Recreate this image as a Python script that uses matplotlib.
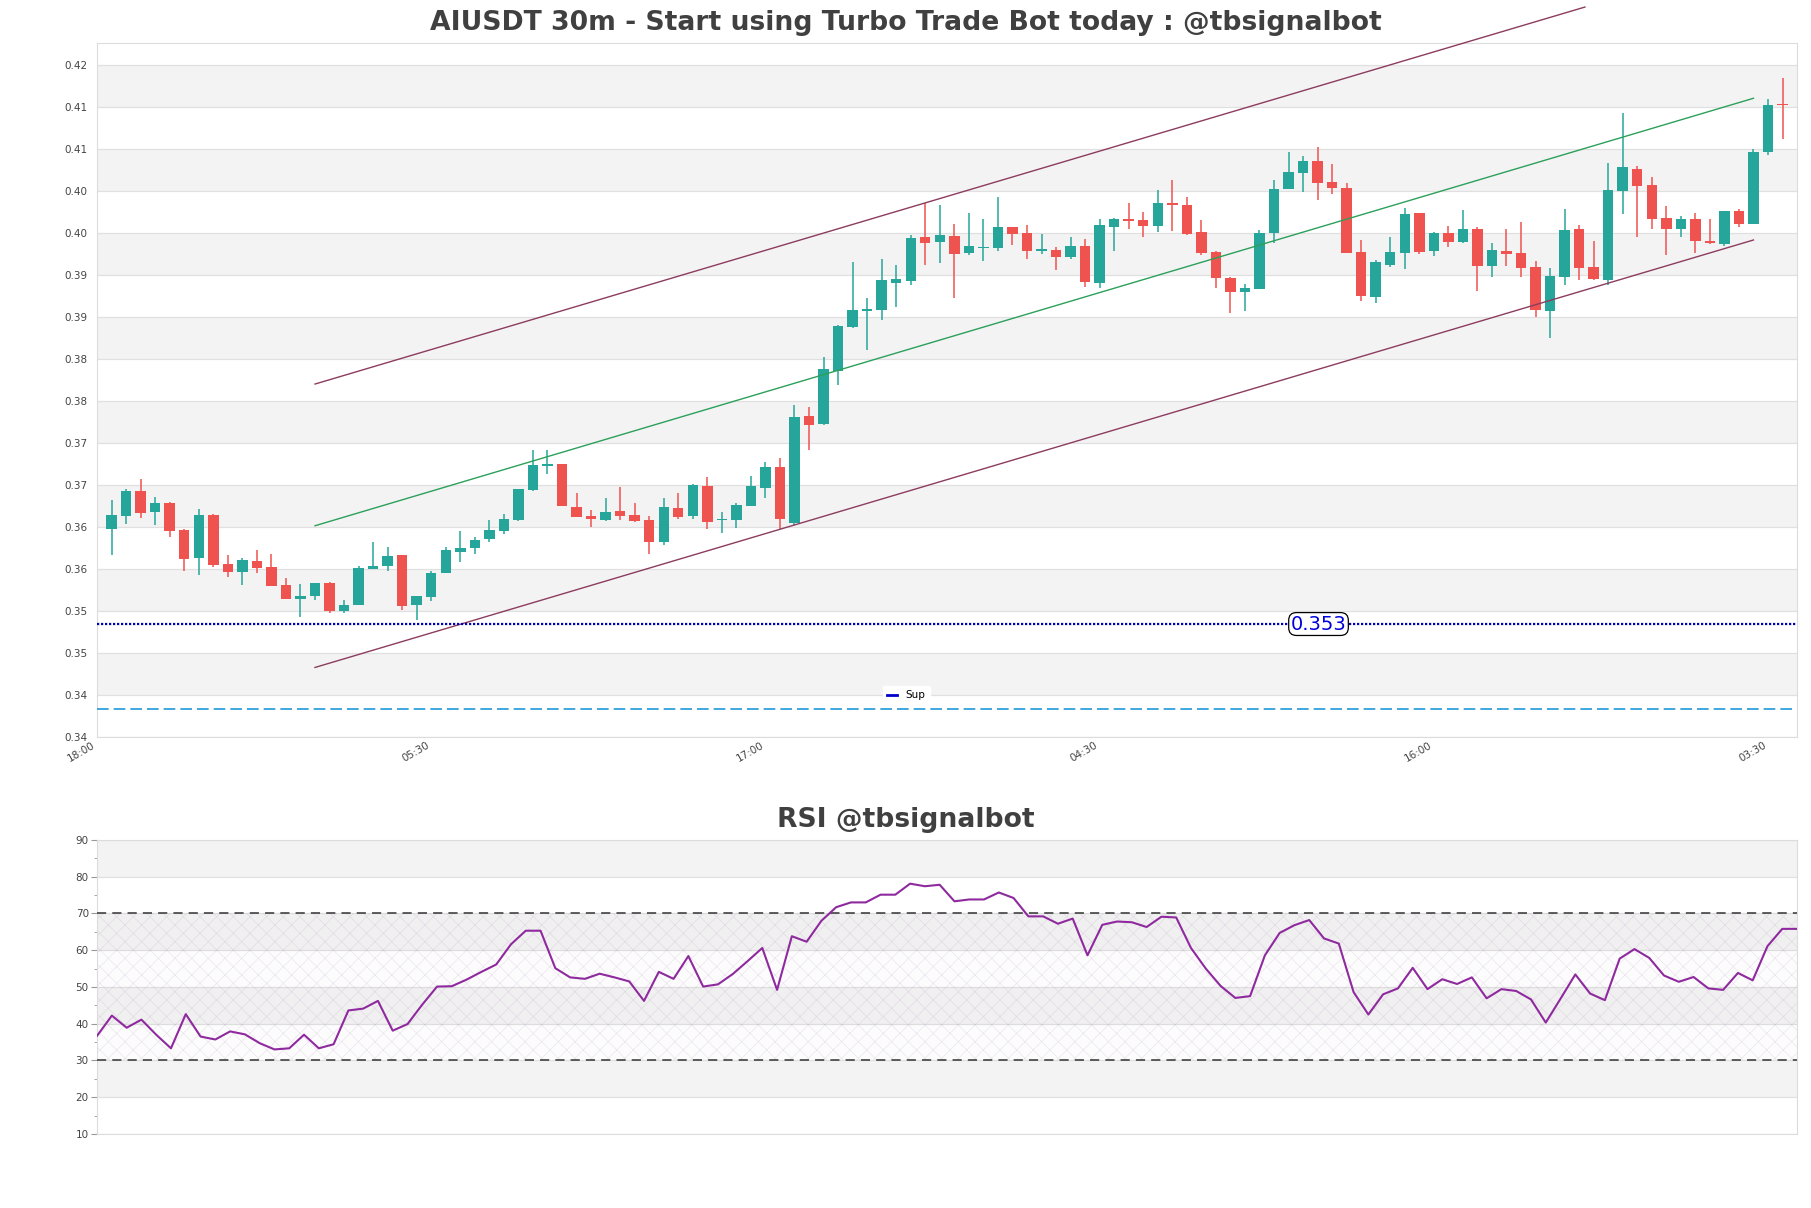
import numpy as np
import matplotlib.pyplot as plt
from matplotlib.lines import Line2D
from matplotlib.ticker import MultipleLocator

# ---- candle data (30m bars) ----
opens = [
    0.36480, 0.36631, 0.36929, 0.36682, 0.36786, 0.36464, 0.36135, 0.36643, 0.36060, 0.35968,
    0.36095, 0.36024, 0.35810, 0.35646, 0.35682, 0.35833, 0.35504, 0.35575, 0.36004, 0.36039,
    0.36167, 0.35575, 0.35670, 0.35956, 0.36206, 0.36254, 0.36361, 0.36456, 0.36587, 0.36940,
    0.37230, 0.37250, 0.36742, 0.36631, 0.36587, 0.36690, 0.36643, 0.36583, 0.36325, 0.36726,
    0.36631, 0.36988, 0.36580, 0.36587, 0.36754, 0.36968, 0.37214, 0.36551, 0.37821, 0.37726,
    0.38361, 0.38881, 0.39075, 0.39087, 0.39408, 0.39432, 0.39952, 0.39896, 0.39964, 0.39765,
    0.39821, 0.39825, 0.40071, 0.40000, 0.39789, 0.39798, 0.39718, 0.39845, 0.39408, 0.40075,
    0.40167, 0.40155, 0.40087, 0.40357, 0.40333, 0.40012, 0.39774, 0.39464, 0.39301, 0.39337,
    0.40004, 0.40524, 0.40718, 0.40857, 0.40607, 0.40536, 0.39774, 0.39242, 0.39623, 0.39765,
    0.40238, 0.39789, 0.40000, 0.39896, 0.40048, 0.39611, 0.39786, 0.39765, 0.39599, 0.39075,
    0.39480, 0.40048, 0.39599, 0.39444, 0.40504, 0.40762, 0.40571, 0.40179, 0.40051, 0.40167,
    0.39908, 0.39873, 0.40262, 0.40111, 0.40968, 0.41539,
]
highs = [
    0.36821, 0.36949, 0.37071, 0.36857, 0.36798, 0.36476, 0.36714, 0.36655, 0.36167, 0.36131,
    0.36226, 0.36179, 0.35893, 0.35821, 0.35833, 0.35845, 0.35631, 0.36036, 0.36321, 0.36265,
    0.36167, 0.35679, 0.35973, 0.36265, 0.36452, 0.36381, 0.36583, 0.36655, 0.36952, 0.37420,
    0.37420, 0.37250, 0.36908, 0.36702, 0.36849, 0.36980, 0.36786, 0.36635, 0.36845, 0.36905,
    0.37012, 0.37095, 0.36679, 0.36786, 0.37107, 0.37277, 0.37325, 0.37952, 0.37929, 0.38524,
    0.38908, 0.39655, 0.39226, 0.39690, 0.39619, 0.39976, 0.40357, 0.40333, 0.40107, 0.40238,
    0.40167, 0.40429, 0.40071, 0.40095, 0.39988, 0.39837, 0.39952, 0.39929, 0.40167, 0.40179,
    0.40357, 0.40250, 0.40512, 0.40631, 0.40429, 0.40155, 0.39786, 0.39480, 0.39393, 0.40036,
    0.40631, 0.40964, 0.40917, 0.41024, 0.40821, 0.40595, 0.39917, 0.39679, 0.39952, 0.40298,
    0.40238, 0.40012, 0.40083, 0.40274, 0.40071, 0.39881, 0.40048, 0.40131, 0.39670, 0.39587,
    0.40289, 0.40095, 0.39908, 0.40833, 0.41432, 0.40798, 0.40667, 0.40321, 0.40202, 0.40238,
    0.40167, 0.40262, 0.40286, 0.41000, 0.41595, 0.41845,
]
lows = [
    0.36167, 0.36539, 0.36611, 0.36527, 0.36385, 0.35980, 0.35932, 0.36027, 0.35908, 0.35813,
    0.35956, 0.35801, 0.35646, 0.35432, 0.35635, 0.35480, 0.35480, 0.35575, 0.36004, 0.35980,
    0.35512, 0.35396, 0.35623, 0.35956, 0.36087, 0.36182, 0.36325, 0.36417, 0.36575, 0.36932,
    0.37135, 0.36754, 0.36623, 0.36504, 0.36575, 0.36587, 0.36560, 0.36182, 0.36289, 0.36599,
    0.36599, 0.36480, 0.36432, 0.36492, 0.36754, 0.36849, 0.36480, 0.36527, 0.37420, 0.37711,
    0.38194, 0.38873, 0.38611, 0.38968, 0.39123, 0.39385, 0.39623, 0.39646, 0.39230, 0.39742,
    0.39670, 0.39789, 0.39861, 0.39694, 0.39754, 0.39560, 0.39694, 0.39361, 0.39349, 0.39789,
    0.40051, 0.39956, 0.40015, 0.40027, 0.39980, 0.39742, 0.39349, 0.39051, 0.39075, 0.39337,
    0.39885, 0.40524, 0.40492, 0.40396, 0.40468, 0.39765, 0.39194, 0.39170, 0.39599, 0.39575,
    0.39754, 0.39730, 0.39837, 0.39885, 0.39313, 0.39480, 0.39611, 0.39480, 0.39004, 0.38754,
    0.39385, 0.39444, 0.39444, 0.39385, 0.40230, 0.39956, 0.40051, 0.39742, 0.39956, 0.39765,
    0.39873, 0.39849, 0.40075, 0.40111, 0.40932, 0.41123,
]
closes = [
    0.36643, 0.36929, 0.36667, 0.36786, 0.36456, 0.36123, 0.36643, 0.36051, 0.35968, 0.36107,
    0.36015, 0.35801, 0.35646, 0.35679, 0.35833, 0.35504, 0.35571, 0.36012, 0.36039, 0.36155,
    0.35563, 0.35679, 0.35952, 0.36226, 0.36250, 0.36345, 0.36464, 0.36595, 0.36952, 0.37238,
    0.37250, 0.36754, 0.36623, 0.36599, 0.36679, 0.36635, 0.36571, 0.36325, 0.36738, 0.36619,
    0.37000, 0.36560, 0.36595, 0.36762, 0.36988, 0.37214, 0.36599, 0.37810, 0.37718, 0.38381,
    0.38896, 0.39083, 0.39095, 0.39440, 0.39456, 0.39940, 0.39885, 0.39976, 0.39754, 0.39845,
    0.39837, 0.40071, 0.39992, 0.39789, 0.39806, 0.39718, 0.39845, 0.39417, 0.40095, 0.40167,
    0.40146, 0.40087, 0.40357, 0.40337, 0.39992, 0.39765, 0.39468, 0.39301, 0.39342, 0.40000,
    0.40524, 0.40726, 0.40857, 0.40599, 0.40536, 0.39765, 0.39254, 0.39655, 0.39774, 0.40226,
    0.39777, 0.40000, 0.39896, 0.40048, 0.39611, 0.39798, 0.39754, 0.39587, 0.39087, 0.39492,
    0.40036, 0.39587, 0.39456, 0.40512, 0.40786, 0.40563, 0.40170, 0.40051, 0.40167, 0.39908,
    0.39885, 0.40262, 0.40111, 0.40964, 0.41524, 0.41527,
]

rsi = [
    36.7, 42.2, 38.9, 41.1, 37.0, 33.3, 42.6, 36.5, 35.7, 37.9,
    37.1, 34.7, 33.0, 33.3, 37.0, 33.3, 34.4, 43.6, 44.1, 46.2,
    38.1, 39.9, 45.2, 50.1, 50.2, 52.0, 54.1, 56.1, 61.6, 65.3,
    65.3, 55.1, 52.6, 52.2, 53.6, 52.6, 51.5, 46.2, 54.1, 52.2,
    58.4, 50.1, 50.7, 53.5, 57.0, 60.6, 49.2, 63.8, 62.3, 68.0,
    71.7, 73.0, 73.0, 75.1, 75.1, 78.1, 77.4, 77.8, 73.3, 73.8,
    73.8, 75.7, 74.2, 69.2, 69.2, 67.2, 68.6, 58.6, 66.9, 67.8,
    67.6, 66.3, 69.1, 68.9, 60.6, 55.0, 50.3, 47.0, 47.5, 58.6,
    64.7, 66.8, 68.2, 63.2, 61.8, 48.6, 42.5, 48.0, 49.6, 55.2,
    49.4, 52.1, 50.8, 52.6, 46.9, 49.4, 48.9, 46.6, 40.3, 46.8,
    53.4, 48.2, 46.4, 57.7, 60.3, 57.9, 53.1, 51.4, 52.7, 49.6,
    49.2, 53.8, 51.8, 61.1, 65.8, 65.8,
]

# time axis labels (bar index -> label)
time_tick_idx = [-1, 22, 45, 68, 91, 114]
time_tick_labels = ['18:00', '05:30', '17:00', '04:30', '16:00', '03:30']

# price axis ticks as printed on the chart
price_ticks = [0.340, 0.345, 0.350, 0.355, 0.360, 0.365, 0.370, 0.375, 0.380,
               0.385, 0.390, 0.395, 0.400, 0.405, 0.410, 0.415, 0.420]
price_tick_labels = ['0.34', '0.34', '0.35', '0.35', '0.36', '0.36', '0.37', '0.37', '0.38',
                     '0.38', '0.39', '0.39', '0.40', '0.40', '0.41', '0.41', '0.42']

# channel lines: middle line start/end, half width; upper line stops earlier
channel_x = [14, 113]
channel_mid = [0.36515, 0.41604]
channel_half = 0.01687
upper_x = [14, 101.4]
upper_y = [0.38202, 0.42690]

support_level = 0.35345
lower_level = 0.34337

TEAL = '#26a69a'
RED = '#ef5350'
BAND = '#f3f3f3'
TXT = '#444444'

plt.rcParams['hatch.linewidth'] = 0.5

fig = plt.figure(figsize=(18.11, 12.08), dpi=100)
ax = fig.add_axes([0.0536, 0.3899, 0.9387, 0.5745])
ax2 = fig.add_axes([0.0536, 0.0613, 0.9387, 0.2434])

# ---- price panel ----
o = np.array(opens)
h = np.array(highs)
l = np.array(lows)
c = np.array(closes)
x = np.arange(len(c))
cols = np.where(c >= o, TEAL, RED)
body_lo = np.minimum(o, c)
body_h = np.maximum(np.abs(c - o), 0.00004)

ax.vlines(x, l, h, colors=cols, lw=1.1, zorder=3)
ax.bar(x, body_h, bottom=body_lo, width=0.72, color=cols, lw=0, zorder=4)

for i in range(1, len(price_ticks) - 1, 2):
    ax.axhspan(price_ticks[i], price_ticks[i + 1], color=BAND, lw=0, zorder=0)

cx = np.array(channel_x)
cm = np.array(channel_mid)
ax.plot(cx, cm, color='#2ba05a', lw=1.0, zorder=5)
ax.plot(cx, cm - channel_half, color='#8c3c5e', lw=1.0, zorder=5)
ax.plot(upper_x, upper_y, color='#8c3c5e', lw=1.0, zorder=5, clip_on=False)

ax.axhline(support_level, color='#0000b4', ls=(0, (1, 0.8)), lw=1.6, zorder=6)
ax.axhline(lower_level, color='#1e9ad8', ls=(0, (7, 3)), lw=1.2, zorder=6)
ax.text(0.7185, support_level, '0.353', transform=ax.get_yaxis_transform(),
        ha='center', va='center', fontsize=14, color='#0000dd', zorder=7,
        bbox=dict(boxstyle='round,pad=0.1,rounding_size=0.4', fc='white', ec='black', lw=0.9))

handle = Line2D([], [], color='#0000cc', lw=2)
ax.legend([handle], ['Sup'], loc='center', bbox_to_anchor=(0.476, 0.06), fontsize=7.5,
          handlelength=1.0, frameon=True, facecolor='white', edgecolor='white',
          framealpha=1.0)

ax.set_xlim(-1, len(c))
ax.set_ylim(0.34, 0.42262)
ax.set_yticks(price_ticks)
ax.set_yticklabels(price_tick_labels)
ax.set_xticks(time_tick_idx)
ax.set_xticklabels(time_tick_labels, rotation=30, ha='right')
ax.tick_params(axis='both', length=0, labelsize=7.5, labelcolor=TXT)
ax.tick_params(axis='y', pad=7)
ax.tick_params(axis='x', pad=2)
ax.yaxis.grid(True, color='#e0e0e0', lw=0.9)
ax.set_axisbelow(True)
for sp in ax.spines.values():
    sp.set_color('#dcdcdc')

# ---- RSI panel ----
n = len(rsi)
for lo in [20, 40, 60, 80]:
    ax2.axhspan(lo, lo + 10, color=BAND, lw=0, zorder=0)
ax2.fill_between([0, n - 1], 30, 70, facecolor=(0.6, 0.4, 0.65, 0.02),
                 edgecolor=(0.62, 0.52, 0.66, 0.2), hatch='xx', lw=0, zorder=1)
ax2.axhline(70, color='#333333', ls=(0, (6, 4)), lw=1.1, zorder=3)
ax2.axhline(30, color='#333333', ls=(0, (6, 4)), lw=1.1, zorder=3)
ax2.plot(np.arange(n), rsi, color='#8e2a9e', lw=1.5, zorder=5)

ax2.set_xlim(0, n - 1)
ax2.set_ylim(10, 90)
ax2.set_yticks(range(10, 91, 10))
ax2.yaxis.set_minor_locator(MultipleLocator(5))
ax2.set_xticks([])
ax2.tick_params(axis='y', which='major', length=4, color='#999999', labelsize=7.5,
                labelcolor=TXT, pad=2)
ax2.tick_params(axis='y', which='minor', length=2, color='#999999')
ax2.yaxis.grid(True, color='#e0e0e0', lw=0.9)
ax2.set_axisbelow(True)
for sp in ax2.spines.values():
    sp.set_color('#dcdcdc')

fig.text(0.5, 0.981, 'AIUSDT 30m - Start using Turbo Trade Bot today : @tbsignalbot',
         ha='center', va='center', fontsize=19.2, fontweight='bold', color='#404040')
fig.text(0.5, 0.321, 'RSI @tbsignalbot', ha='center', va='center', fontsize=19.2,
         fontweight='bold', color='#404040')

fig.savefig('out.png', dpi=100)
plt.close(fig)
